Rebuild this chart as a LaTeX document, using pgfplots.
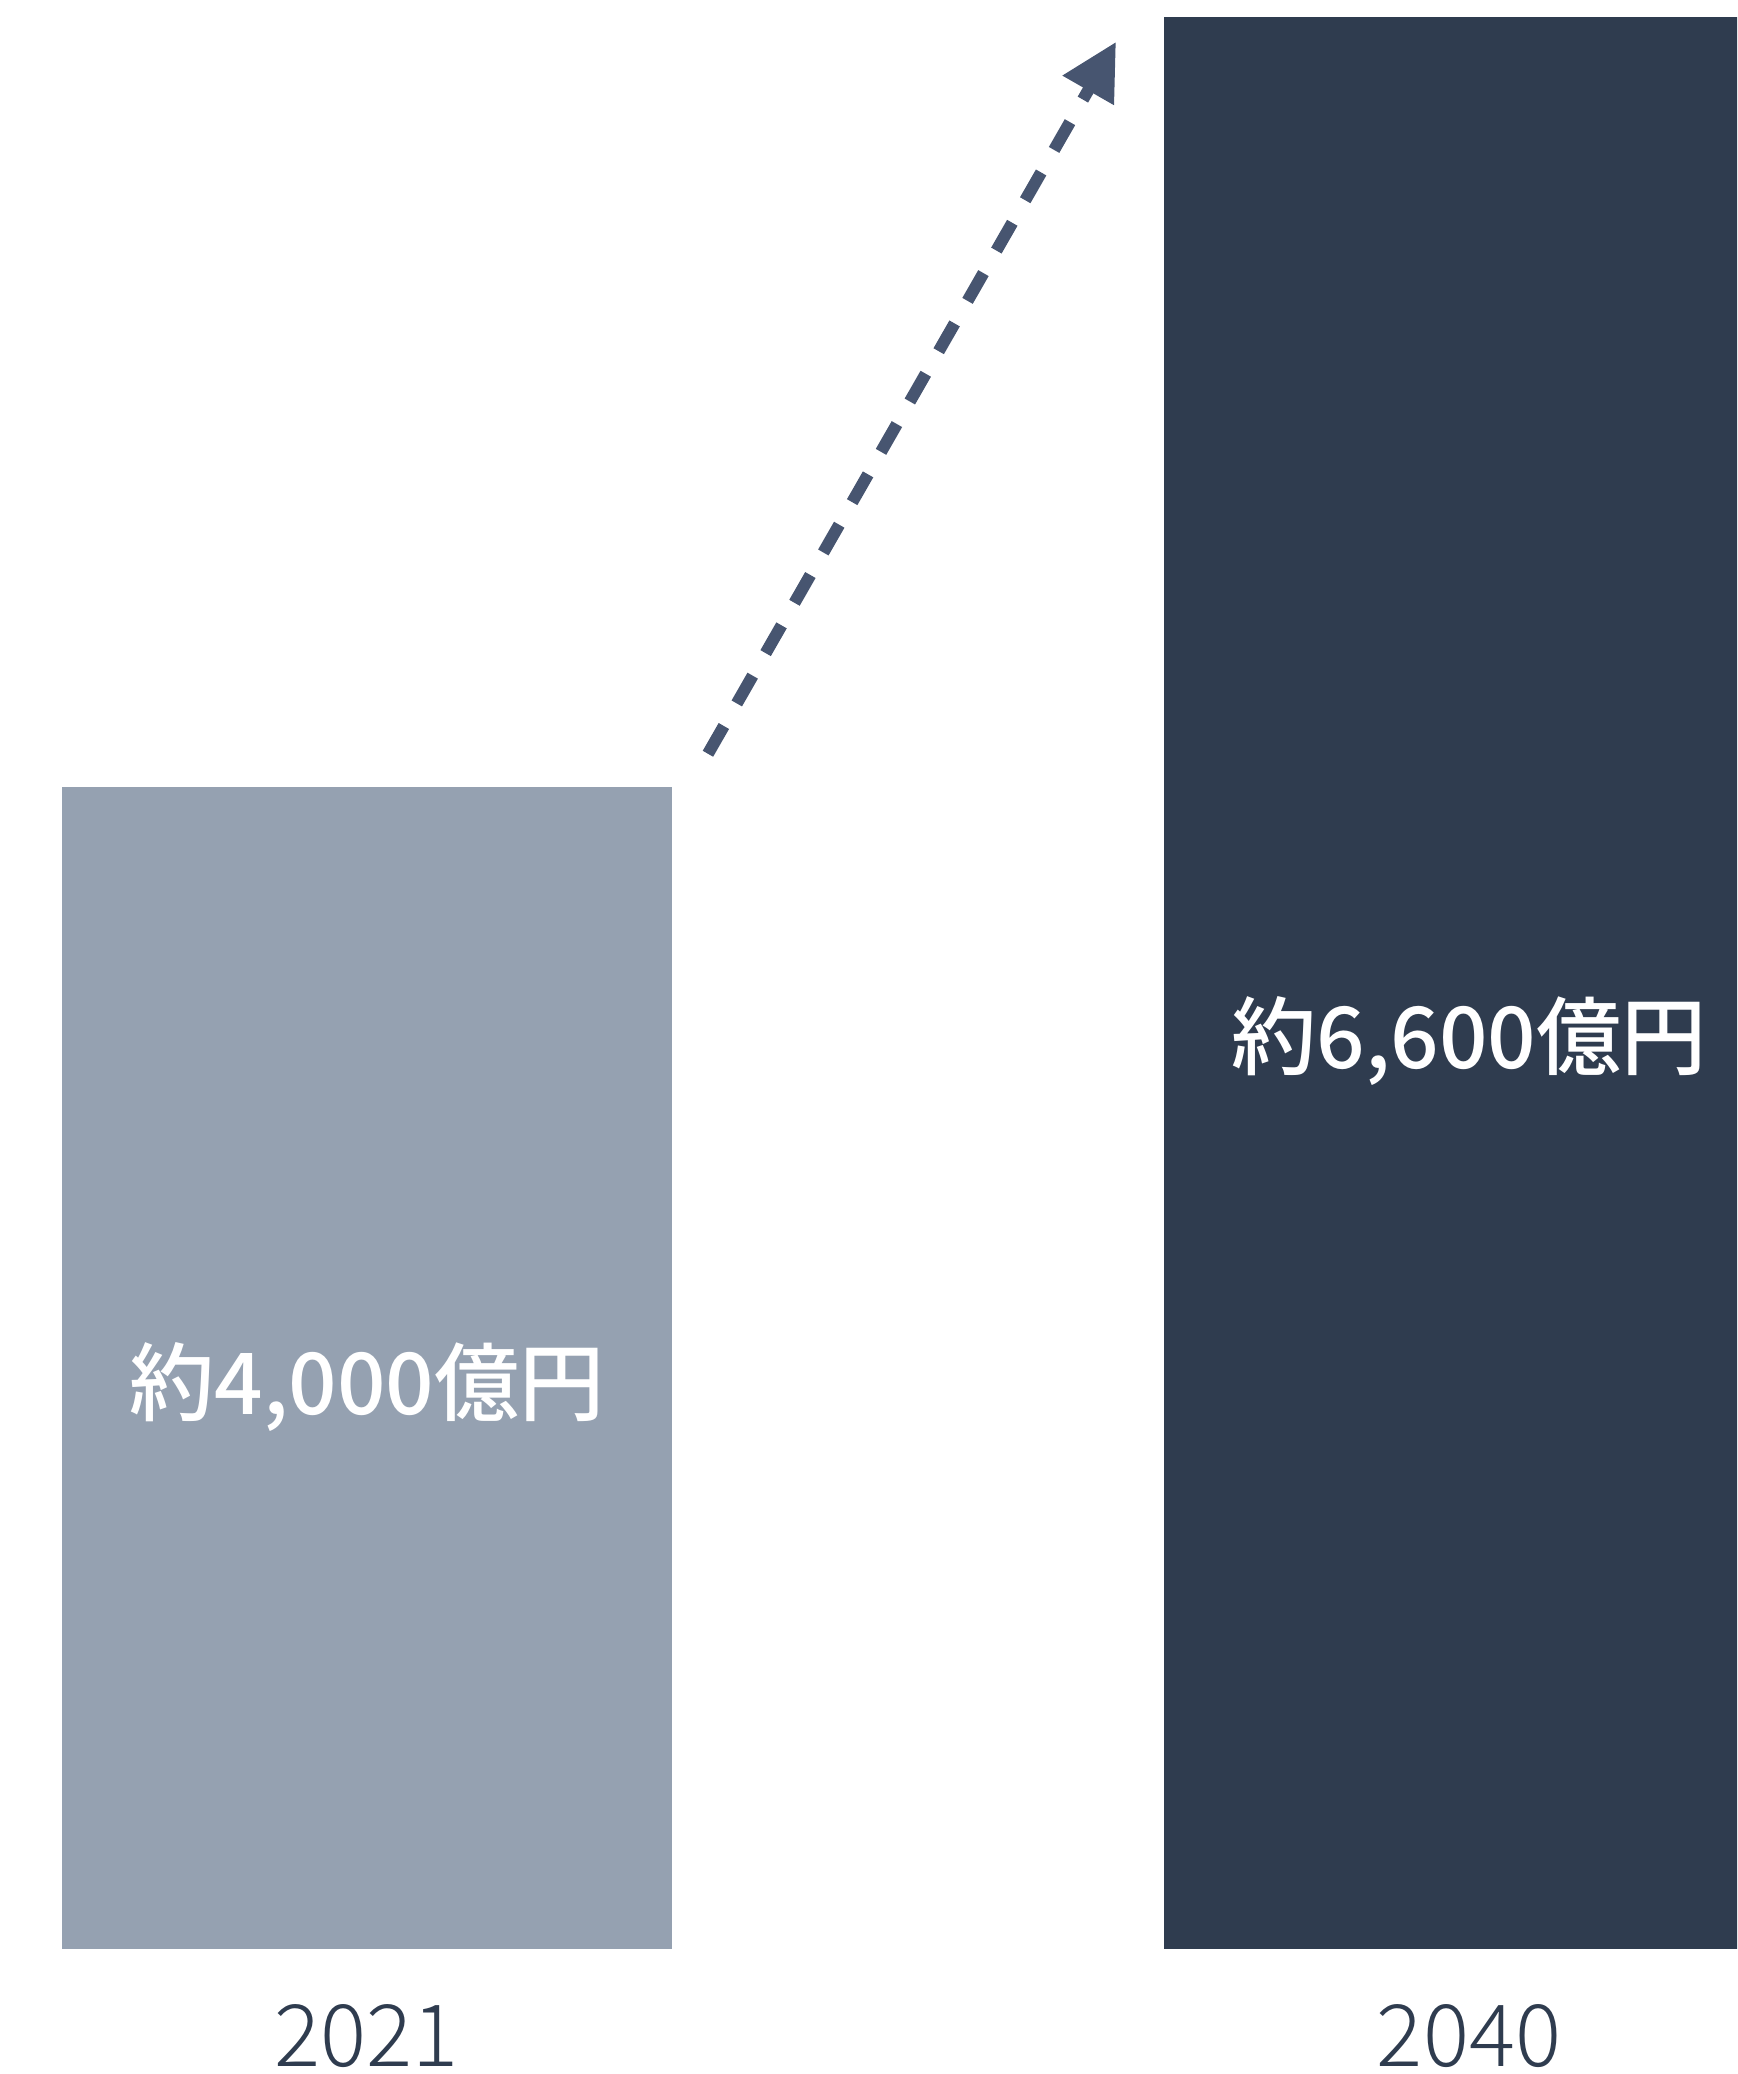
\documentclass[border=0pt]{standalone}
\usepackage{pgfplots}
\pgfplotsset{compat=1.18}
\usepackage{fontspec}
\usetikzlibrary{arrows.meta}
\setmainfont{Noto Sans CJK JP}
\newfontfamily\jplight{Noto Sans CJK JP}[UprightFont={* Light}]
\newfontfamily\jpmed{Noto Sans CJK JP}[UprightFont={* Medium}]
\definecolor{barA}{HTML}{95A1B1}
\definecolor{barB}{HTML}{2F3C4F}
\definecolor{arrowc}{HTML}{475570}
\begin{document}
\begin{tikzpicture}
\begin{axis}[
  scale only axis,
  width=434.25pt, height=487.25pt,
  xmin=-0.3330, xmax=1.2432,
  ymin=0, ymax=6658,
  axis line style={draw=none},
  ytick=\empty,
  xtick={0,1},
  xticklabels={2021,2040},
  major tick length=0pt,
  xticklabel style={anchor=base, yshift=-29.25pt, font=\jplight\fontsize{21.5}{25}\selectfont, text=barB},
  ybar, bar width=152.5pt, bar shift=0pt,
]
\addplot[fill=barA, draw=none] coordinates {(0,3970)};
\addplot[fill=barB, draw=none] coordinates {(1,6600)};
\node[anchor=base, text=white, font=\jpmed\fontsize{21.3}{25}\selectfont] at (axis cs:0,1826) {約4,000億円};
\node[anchor=base, text=white, font=\jpmed\fontsize{21.3}{25}\selectfont] at (axis cs:1,3008) {約6,600億円};
\draw[arrowc, line width=3pt, dash pattern=on 8pt off 6.5pt, -{Triangle[length=14pt,width=14pt]}]
  (axis cs:0.3094,4083) -- (axis cs:0.6797,6515);
\end{axis}
\pgfresetboundingbox
\path (current axis.south west) ++(0,-31.25pt) rectangle (current axis.north east);
\end{tikzpicture}
\end{document}
